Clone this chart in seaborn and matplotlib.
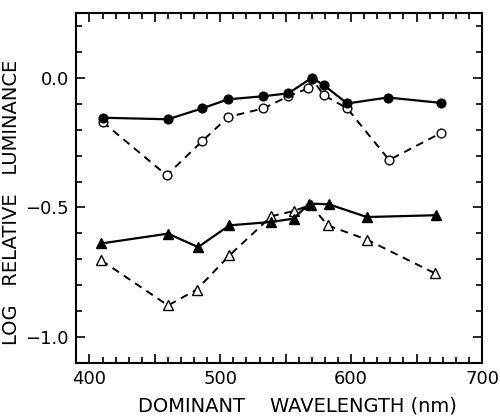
import numpy as np
import pandas as pd
import matplotlib
matplotlib.use("Agg")
import matplotlib.pyplot as plt
import seaborn as sns
from matplotlib.ticker import MultipleLocator

sns.set_style("ticks", {"text.color": "black", "axes.labelcolor": "black",
                        "xtick.color": "black", "ytick.color": "black",
                        "axes.edgecolor": "black"})
plt.rcParams["font.family"] = ["DejaVu Sans"]

# --- data (wavelength in nm, log relative luminance) ---
circ_fill_x = [410, 460, 486, 506, 533, 552, 570, 579, 597, 628, 669]
circ_fill_y = [-0.154, -0.160, -0.118, -0.083, -0.071, -0.060, 0.0, -0.028, -0.099, -0.076, -0.097]

circ_open_x = [410, 459, 486, 506, 533, 552, 567, 570, 579, 597, 629, 669]
circ_open_y = [-0.170, -0.376, -0.245, -0.151, -0.118, -0.071, -0.041, -0.003, -0.067, -0.118, -0.317, -0.212]

tri_fill_x = [409, 460, 483, 507, 539, 556, 568, 583, 612, 665]
tri_fill_y = [-0.639, -0.601, -0.653, -0.569, -0.556, -0.543, -0.485, -0.488, -0.537, -0.530]

tri_open_x = [409, 460, 482, 507, 539, 556, 569, 582, 612, 664]
tri_open_y = [-0.704, -0.878, -0.817, -0.685, -0.534, -0.514, -0.49, -0.569, -0.624, -0.754]

x_ticks = [400, 450, 500, 550, 600, 650, 700]
x_tick_labels = ["400", "", "500", "", "600", "", "700"]
y_ticks = [-1.0, -0.5, 0.0]

# name, x, y, marker, face colour, line style, marker size
series = [
    ("open circles", circ_open_x, circ_open_y, "o", "white", (0, (4, 3)), 6.3),
    ("open triangles", tri_open_x, tri_open_y, "^", "white", (0, (4, 3)), 7.5),
    ("filled circles", circ_fill_x, circ_fill_y, "o", "black", "-", 6.3),
    ("filled triangles", tri_fill_x, tri_fill_y, "^", "black", "-", 7.5),
]

fig = plt.figure(figsize=(5.0, 4.16), dpi=100)
ax = fig.add_axes([0.152, 0.1274, 0.812, 0.8414])

for name, xs, ys, mk, face, ls, ms in series:
    df = pd.DataFrame({"wavelength": xs, "logL": ys})
    sns.lineplot(data=df, x="wavelength", y="logL", ax=ax, color="black",
                 linestyle=ls, lw=1.6 if ls == "-" else 1.4,
                 marker=mk, markersize=ms, markerfacecolor=face,
                 markeredgecolor="black", markeredgewidth=1.0,
                 sort=False, legend=False)

ax.set_xlim(389.7, 700)
ax.set_ylim(-1.1, 0.25)
ax.set_xticks(x_ticks)
ax.set_xticklabels(x_tick_labels)
ax.xaxis.set_minor_locator(MultipleLocator(10))
ax.set_yticks(y_ticks)
ax.yaxis.set_minor_locator(MultipleLocator(0.1))

ax.tick_params(which="both", direction="in", top=True, right=True,
               width=1.2, labelsize=13, pad=5)
ax.tick_params(which="major", length=6.5)
ax.tick_params(which="minor", length=4)

for s in ax.spines.values():
    s.set_linewidth(1.5)

ax.set_xlabel("DOMINANT    WAVELENGTH (nm)", fontsize=14)
ax.set_ylabel("LOG   RELATIVE   LUMINANCE", fontsize=14)
ax.xaxis.set_label_coords(0.545, -0.095)
ax.yaxis.set_label_coords(-0.135, 0.46)

fig.savefig("out.png", dpi=100)
